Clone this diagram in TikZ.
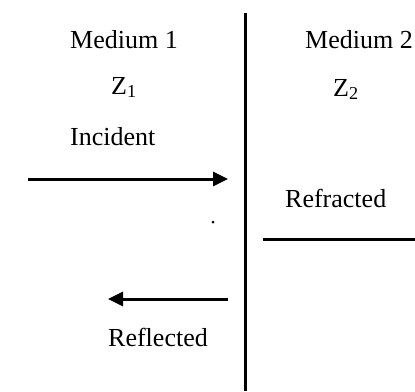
\documentclass[tikz,border=0pt]{standalone}
\usepackage{fontspec}
\setmainfont{Liberation Serif}
\usetikzlibrary{arrows.meta}
\begin{document}
\begin{tikzpicture}[x=1pt,y=-1pt,
  lbl/.style={inner sep=0pt, anchor=base west, font=\fontsize{26}{30}\selectfont},
  ray/.style={line width=3pt, -{Triangle[length=15pt,width=14pt]}},
  wall/.style={line width=3pt},
  plain/.style={line width=3pt}]
\useasboundingbox (0,0) rectangle (415,391);
\clip (0,0) rectangle (415,391);

% boundary between the two media
\coordinate (wtop) at (245,13);
\coordinate (wbot) at (245,391);
\draw[wall] (wtop) -- (wbot);

% labels
\node[lbl] (m1) at (70,48) {Medium 1};
\node[lbl] (m2) at (305,48) {Medium 2};
\node[lbl] (z1) at (111,94) {Z\textsubscript{1}};
\node[lbl] (z2) at (333,96) {Z\textsubscript{2}};
\node[lbl] (inc) at (70,145) {Incident};
\node[lbl] (refr) at (285,207) {Refracted};
\node[lbl] (refl) at (108,346) {Reflected};

% incident wave
\coordinate (incA) at (28,179);
\coordinate (incB) at (228,179);
\draw[ray] (incA) -- (incB);

% refracted (transmitted) wave
\coordinate (trA) at (263,239);
\coordinate (trB) at (415,239);
\draw[plain] (trA) -- (trB);

% reflected wave
\coordinate (rfA) at (228,299);
\coordinate (rfB) at (108,299);
\draw[ray] (rfA) -- (rfB);

% small dot
\fill (213,222) circle (1.5);
\end{tikzpicture}
\end{document}
